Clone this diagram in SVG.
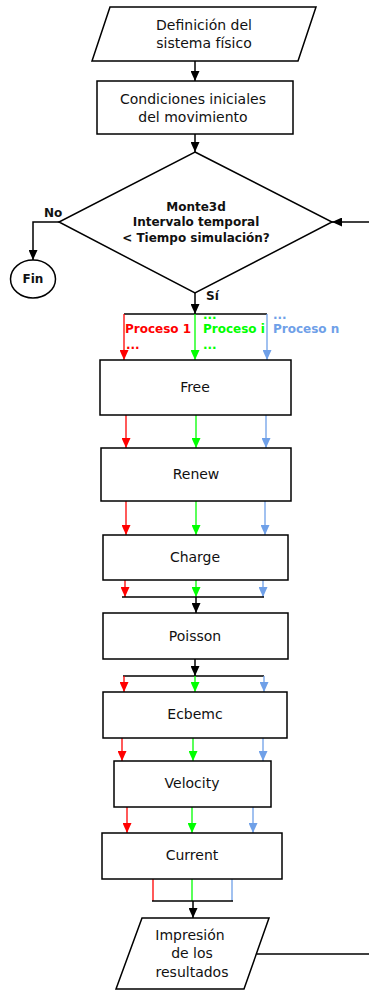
<svg xmlns="http://www.w3.org/2000/svg" width="369" height="990" viewBox="0 0 369 990">
  <defs>
    <marker id="ah-k" viewBox="0 0 10 9" refX="10" refY="4.5" markerWidth="10" markerHeight="9" markerUnits="userSpaceOnUse" orient="auto">
      <path d="M0,0 L10,4.5 L0,9 z" fill="#000"/>
    </marker>
    <marker id="ah-r" viewBox="0 0 10 9" refX="10" refY="4.5" markerWidth="10" markerHeight="9" markerUnits="userSpaceOnUse" orient="auto">
      <path d="M0,0 L10,4.5 L0,9 z" fill="#ff0000"/>
    </marker>
    <marker id="ah-g" viewBox="0 0 10 9" refX="10" refY="4.5" markerWidth="10" markerHeight="9" markerUnits="userSpaceOnUse" orient="auto">
      <path d="M0,0 L10,4.5 L0,9 z" fill="#00ff00"/>
    </marker>
    <marker id="ah-b" viewBox="0 0 10 9" refX="10" refY="4.5" markerWidth="10" markerHeight="9" markerUnits="userSpaceOnUse" orient="auto">
      <path d="M0,0 L10,4.5 L0,9 z" fill="#6fa0e8"/>
    </marker>
  </defs>
  <style>
    .shape { fill: #fff; stroke: #000; stroke-width: 1.5; }
    .t { font-family: "DejaVu Sans", sans-serif; font-size: 14px; fill: #111; text-anchor: middle; }
    .tb { font-family: "DejaVu Sans", sans-serif; font-size: 12px; font-weight: bold; fill: #111; text-anchor: middle; }
    .lb { font-family: "DejaVu Sans", sans-serif; font-size: 12px; font-weight: bold; }
    .k { fill: none; stroke: #000; stroke-width: 1.5; }
    .ka { fill: none; stroke: #000; stroke-width: 1.5; marker-end: url(#ah-k); }
    .r { fill: none; stroke: #ff0000; stroke-width: 1.3; marker-end: url(#ah-r); }
    .g { fill: none; stroke: #00ff00; stroke-width: 1.3; marker-end: url(#ah-g); }
    .b { fill: none; stroke: #6fa0e8; stroke-width: 1.3; marker-end: url(#ah-b); }
    .rl { fill: none; stroke: #ff0000; stroke-width: 1.3; }
    .gl { fill: none; stroke: #00ff00; stroke-width: 1.3; }
    .bl { fill: none; stroke: #6fa0e8; stroke-width: 1.3; }
  </style>
  <rect width="369" height="990" fill="#fff"/>

  <g id="connectors">
    <!-- main flow -->
    <line class="ka" x1="195" y1="61" x2="195" y2="81"/>
    <line class="ka" x1="195" y1="134" x2="195" y2="152"/>
    <line class="ka" x1="369" y1="222" x2="332" y2="222"/>
    <polyline class="ka" points="59,222 33,222 33,260"/>
    <line class="ka" x1="195" y1="293" x2="195" y2="314"/>
    <line class="k" x1="124" y1="314" x2="267" y2="314"/>
    <!-- split into processes -->
    <polyline class="r" points="124,314 124,360"/>
    <polyline class="g" points="195,314 195,360"/>
    <polyline class="b" points="267,314 267,360"/>
    <!-- Free to Renew -->
    <line class="r" x1="126" y1="415" x2="126" y2="448"/>
    <line class="g" x1="196" y1="415" x2="196" y2="448"/>
    <line class="b" x1="266" y1="415" x2="266" y2="448"/>
    <!-- Renew to Charge -->
    <line class="r" x1="126" y1="501" x2="126" y2="535"/>
    <line class="g" x1="196" y1="501" x2="196" y2="535"/>
    <line class="b" x1="265" y1="501" x2="265" y2="535"/>
    <!-- Charge to join -->
    <line class="r" x1="125" y1="580" x2="125" y2="597"/>
    <line class="g" x1="196" y1="580" x2="196" y2="597"/>
    <line class="b" x1="263" y1="580" x2="263" y2="597"/>
    <line class="k" x1="122" y1="597" x2="264" y2="597"/>
    <line class="ka" x1="196" y1="597" x2="196" y2="613"/>
    <!-- Poisson to split -->
    <line class="ka" x1="195" y1="659" x2="195" y2="676"/>
    <line class="k" x1="123" y1="676" x2="264" y2="676"/>
    <line class="r" x1="124" y1="676" x2="124" y2="692"/>
    <line class="g" x1="195" y1="676" x2="195" y2="692"/>
    <line class="b" x1="264" y1="676" x2="264" y2="692"/>
    <!-- Ecbemc to Velocity -->
    <line class="r" x1="122" y1="738" x2="122" y2="761"/>
    <line class="g" x1="193" y1="738" x2="193" y2="761"/>
    <line class="b" x1="263" y1="738" x2="263" y2="761"/>
    <!-- Velocity to Current -->
    <line class="r" x1="127" y1="807" x2="127" y2="833"/>
    <line class="g" x1="192" y1="807" x2="192" y2="833"/>
    <line class="b" x1="253" y1="807" x2="253" y2="833"/>
    <!-- Current to join -->
    <line class="rl" x1="153" y1="879" x2="153" y2="901"/>
    <line class="gl" x1="192" y1="879" x2="192" y2="901"/>
    <line class="bl" x1="232" y1="879" x2="232" y2="901"/>
    <line class="k" x1="152" y1="901" x2="233" y2="901"/>
    <line class="ka" x1="193" y1="901" x2="193" y2="918"/>
    <!-- loop back -->
    <line class="k" x1="257" y1="954" x2="369" y2="954"/>
  </g>

  <g id="labels">
    <text class="lb" x="44" y="217" fill="#111">No</text>
    <text class="lb" x="206" y="300" fill="#111">Sí</text>
    <text class="lb" x="125" y="333" fill="#ff0000">Proceso 1</text>
    <text class="lb" x="126" y="349" fill="#ff0000">...</text>
    <text class="lb" x="203" y="333" fill="#00ff00">Proceso i</text>
    <text class="lb" x="203" y="319" fill="#00ff00">...</text>
    <text class="lb" x="203" y="349" fill="#00ff00">...</text>
    <text class="lb" x="273" y="333" fill="#6fa0e8">Proceso n</text>
    <text class="lb" x="273" y="319" fill="#6fa0e8">...</text>
  </g>

  <g id="definicion">
    <polygon class="shape" points="110,7 316,7 298,61 92,61"/>
    <text class="t" x="204" y="30">Definición del</text>
    <text class="t" x="204" y="48">sistema físico</text>
  </g>

  <g id="condiciones">
    <rect class="shape" x="97" y="81" width="196" height="53"/>
    <text class="t" x="193" y="104">Condiciones iniciales</text>
    <text class="t" x="193" y="122">del movimiento</text>
  </g>

  <g id="monte3d">
    <polygon class="shape" points="195,152 332,222 195,293 59,222"/>
    <text class="tb" x="196" y="211">Monte3d</text>
    <text class="tb" x="196" y="226">Intervalo temporal</text>
    <text class="tb" x="196" y="242">&lt; Tiempo simulación?</text>
  </g>

  <g id="fin">
    <ellipse class="shape" cx="33" cy="279" rx="22.5" ry="19"/>
    <text class="tb" x="33" y="283">Fin</text>
  </g>

  <g id="free">
    <rect class="shape" x="100" y="360" width="191" height="55"/>
    <text class="t" x="195" y="392">Free</text>
  </g>

  <g id="renew">
    <rect class="shape" x="101" y="448" width="190" height="53"/>
    <text class="t" x="196" y="479">Renew</text>
  </g>

  <g id="charge">
    <rect class="shape" x="103" y="535" width="185" height="45"/>
    <text class="t" x="195" y="562">Charge</text>
  </g>

  <g id="poisson">
    <rect class="shape" x="103" y="613" width="185" height="46"/>
    <text class="t" x="195" y="641">Poisson</text>
  </g>

  <g id="ecbemc">
    <rect class="shape" x="103" y="692" width="184" height="46"/>
    <text class="t" x="195" y="719">Ecbemc</text>
  </g>

  <g id="velocity">
    <rect class="shape" x="114" y="761" width="157" height="46"/>
    <text class="t" x="192" y="788">Velocity</text>
  </g>

  <g id="current">
    <rect class="shape" x="102" y="833" width="180" height="46"/>
    <text class="t" x="192" y="860">Current</text>
  </g>

  <g id="impresion">
    <polygon class="shape" points="142,918 269,918 244,989 116,989"/>
    <text class="t" x="190" y="940">Impresión</text>
    <text class="t" x="192" y="958">de los</text>
    <text class="t" x="192" y="977">resultados</text>
  </g>
</svg>
